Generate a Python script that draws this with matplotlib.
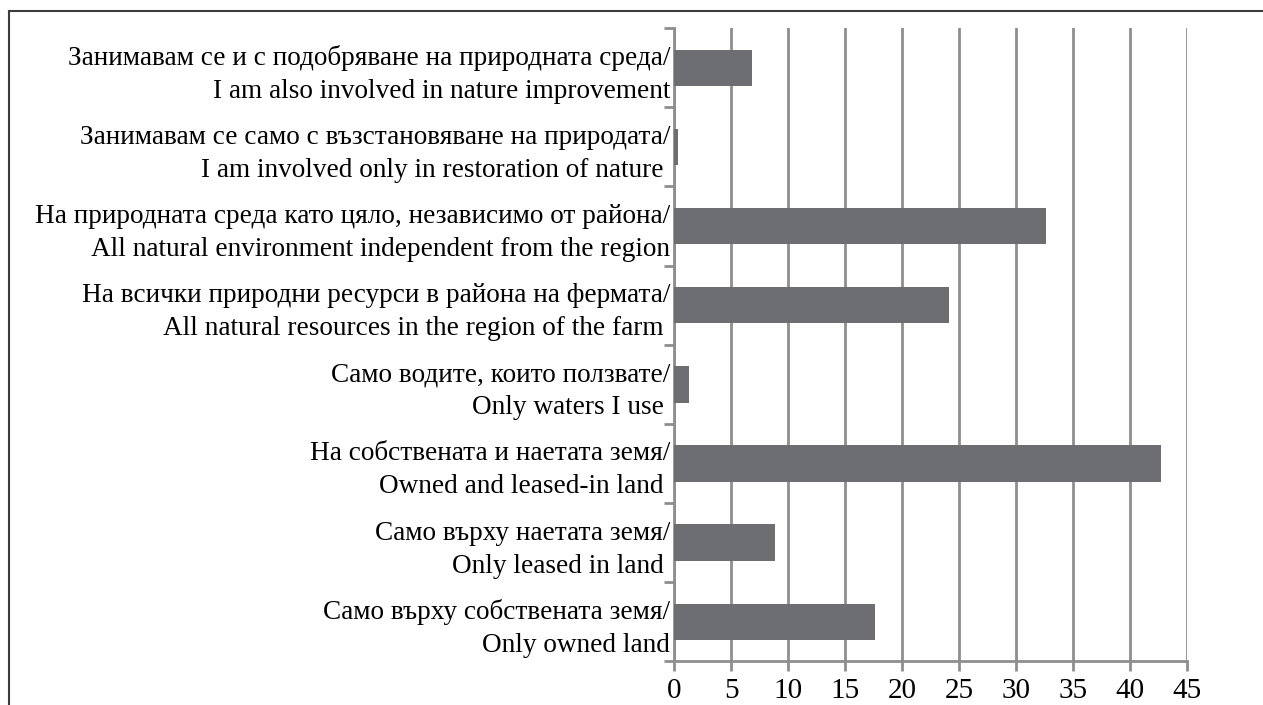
import matplotlib.pyplot as plt
from matplotlib.lines import Line2D
from matplotlib.ticker import FixedLocator

plt.rcParams['font.family'] = ['Liberation Serif', 'DejaVu Serif']

# categories from top to bottom, as in the picture
labels = [
    'Занимавам се и с подобряване на природната среда/\nI am also involved in nature improvement',
    'Занимавам се само с възстановяване на природата/\nI am involved only in restoration of nature ',
    'На природната среда като цяло, независимо от района/\nAll natural environment independent from the region',
    'На всички природни ресурси в района на фермата/\nAll natural resources in the region of the farm ',
    'Само водите, които ползвате/\nOnly waters I use ',
    'На собствената и наетата земя/\nOwned and leased-in land ',
    'Само върху наетата земя/\nOnly leased in land ',
    'Само върху собствената земя/\nOnly owned land',
]
values = [6.8, 0.3, 32.6, 24.1, 1.3, 42.7, 8.8, 17.6]
xticks = [0, 5, 10, 15, 20, 25, 30, 35, 40, 45]

grid_col = '#8e8e8e'
bar_col = '#6d6e71'

fig = plt.figure(figsize=(12.63, 7.05), dpi=100)
ax = fig.add_axes([0.534, 0.062, 0.406, 0.898])

pos = list(range(len(labels)))[::-1]
ax.barh(pos, values, height=0.46, color=bar_col, zorder=3)

ax.set_xlim(0, 45)
ax.set_ylim(-0.5, len(labels) - 0.5)
ax.set_xticks(xticks)
ax.set_xticklabels([str(t) for t in xticks], fontsize=21)
ax.set_yticks(pos)
ax.set_yticklabels(labels, fontsize=19.6, linespacing=1.42)
ax.yaxis.set_minor_locator(FixedLocator([p - 0.5 for p in range(len(labels) + 1)]))

ax.tick_params(axis='y', which='major', length=0, pad=3)
ax.tick_params(axis='y', which='minor', length=7, width=2, color=grid_col)
ax.tick_params(axis='x', length=7, width=2, color=grid_col, pad=5)

ax.grid(axis='x', color=grid_col, linewidth=2, zorder=0)
for s in ['top', 'right']:
    ax.spines[s].set_visible(False)
for s in ['left', 'bottom']:
    ax.spines[s].set_color(grid_col)
    ax.spines[s].set_linewidth(2)

# outer frame, cropped on the right and bottom
fig.add_artist(Line2D([0.0075, 0.0075], [0, 0.985], color='#3c3c3c', linewidth=1.5))
fig.add_artist(Line2D([0.0075, 1], [0.985, 0.985], color='#3c3c3c', linewidth=1.5))

fig.savefig('out.png', dpi=100)
